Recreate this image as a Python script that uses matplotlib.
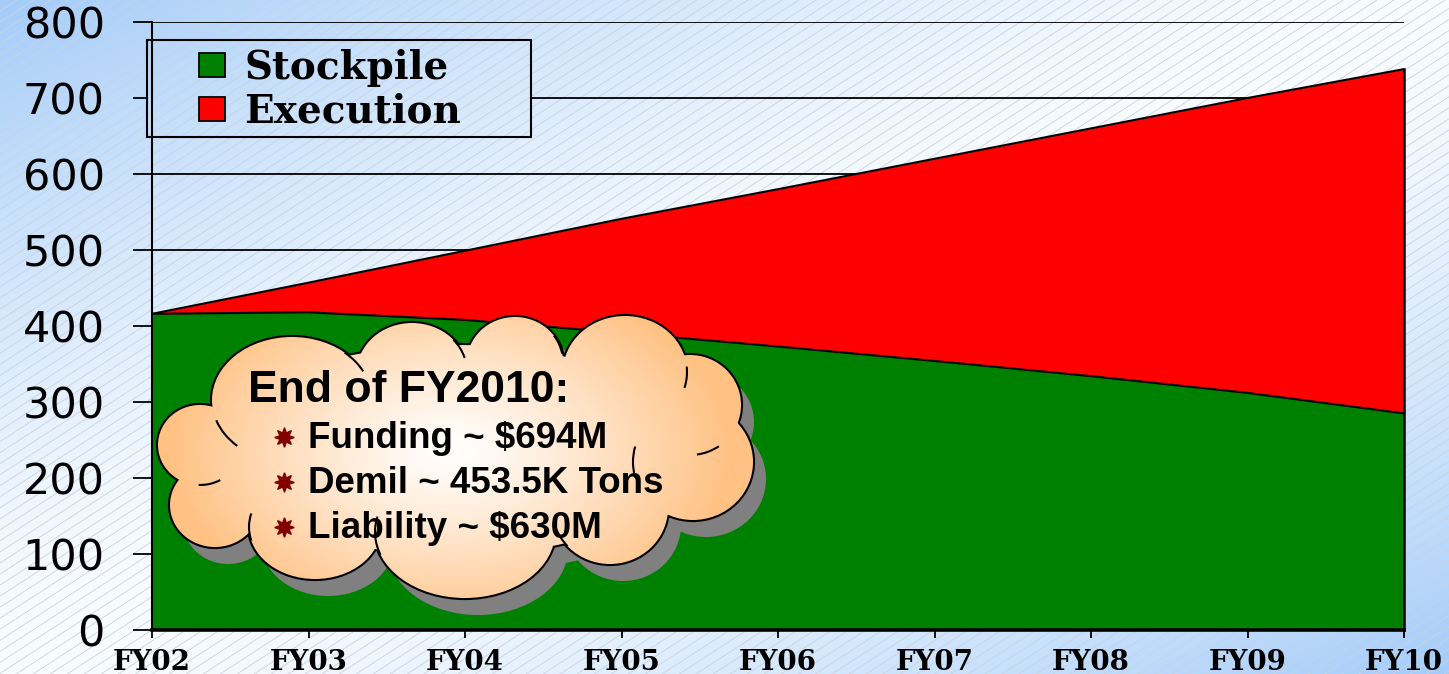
import numpy as np
import matplotlib.pyplot as plt
from matplotlib.patches import Patch, PathPatch, Rectangle, Arc
from matplotlib.path import Path
from matplotlib.transforms import Affine2D

years = ["FY02", "FY03", "FY04", "FY05", "FY06", "FY07", "FY08", "FY09", "FY10"]
stockpile = [416, 418, 408, 391, 373, 354, 334, 312, 285]
execution = [0, 39, 91, 150, 207, 266, 326, 388, 453]
yticks = [0, 100, 200, 300, 400, 500, 600, 700, 800]

cloud_title = "End of FY2010:"
cloud_items = ["Funding ~ $694M", "Demil ~ 453.5K Tons", "Liability ~ $630M"]

GREEN, RED = "#008000", "#FF0000"
W, H = 1449, 674

fig = plt.figure(figsize=(W / 100, H / 100), dpi=100)

# background: blue corners fading to white, thin diagonal hatch
yy, xx = np.mgrid[0:H, 0:W]
d = np.clip(np.abs((xx / W + yy / H) / 2 - 0.5) * 2, 0, 1) ** 1.4
blue = np.array([0.64, 0.80, 0.98])
white = np.array([0.98, 0.99, 1.0])
img = white * (1 - d[..., None]) + blue * d[..., None]
slope = np.tan(np.radians(33))


def draw_background(a, clip=None):
    im = a.imshow(img, extent=[0, W, H, 0], aspect="auto", zorder=0)
    arts = [im]
    for c in np.arange(-H / slope, W, 17):
        arts += a.plot([c, c + H / slope], [H, 0], color="#c9d3de", lw=0.6, zorder=0.5)
    if clip is not None:
        for art in arts:
            art.set_clip_path(clip)


bg = fig.add_axes([0, 0, 1, 1], zorder=-10)
draw_background(bg)
bg.set_xlim(0, W); bg.set_ylim(H, 0); bg.axis("off")

# main chart
ax = fig.add_axes([152 / W, 1 - 630 / H, (1404 - 152) / W, (630 - 22) / H], zorder=1)
ax.patch.set_visible(False)
x = np.arange(len(years))
stock = np.array(stockpile)
total = stock + np.array(execution)
ax.fill_between(x, 0, stock, color=GREEN, lw=0, zorder=2)
ax.fill_between(x, stock, total, color=RED, lw=0, zorder=2)
ax.plot(x, stock, color="black", lw=1.5, zorder=3)
ax.plot(x, total, color="black", lw=1.5, zorder=3)
ax.plot([x[-1], x[-1]], [0, total[-1]], color="black", lw=1.8, zorder=3, clip_on=False)

ax.set_xlim(0, len(years) - 1)
ax.set_ylim(0, 800)
ax.set_yticks(yticks)
ax.set_xticks(x)
ax.set_xticklabels(years, fontfamily="DejaVu Serif", fontweight="bold", fontsize=20)
ax.set_yticklabels([str(v) for v in yticks], fontfamily="DejaVu Sans", fontsize=31)
ax.yaxis.grid(True, color="black", lw=1.3)
ax.set_axisbelow(True)
ax.tick_params(axis="y", direction="out", length=14, width=1.3, pad=20)
ax.tick_params(axis="x", direction="out", length=6, width=1.3, pad=8)
for s in ("top", "right"):
    ax.spines[s].set_visible(False)
ax.spines["left"].set_linewidth(1.5)
ax.spines["bottom"].set_linewidth(2.6)

# overlay in pixel coordinates for legend box and cloud callout
ov = fig.add_axes([0, 0, 1, 1], zorder=5)
ov.set_xlim(0, W); ov.set_ylim(H, 0); ov.axis("off")
box = Rectangle((147, 40), 384, 97, fill=False, edgecolor="black", lw=1.5, zorder=2)
ov.add_patch(box)
draw_background(ov, clip=box)
ov.plot([152, 152], [40, 137], color="black", lw=1.5, zorder=1)  # y axis seen through box

handles = [Patch(facecolor=GREEN, edgecolor="black", lw=1.3, label="Stockpile"),
           Patch(facecolor=RED, edgecolor="black", lw=1.3, label="Execution")]
leg = ov.legend(handles=handles, loc="upper left", bbox_to_anchor=(199 / W, 1 - 49 / H),
                bbox_transform=fig.transFigure, frameon=False, borderpad=0, borderaxespad=0,
                handlelength=0.66, handleheight=0.58, handletextpad=0.5, labelspacing=0.15,
                prop={"family": "DejaVu Serif", "weight": "bold", "size": 28})
leg.set_zorder(3)

bumps = [(455, 450, 480, 210), (200, 445, 84, 80), (215, 505, 90, 84),
         (292, 400, 160, 126), (412, 372, 110, 98), (515, 362, 96, 90),
         (625, 372, 124, 112), (690, 405, 102, 100), (693, 462, 120, 116),
         (610, 508, 116, 112), (465, 532, 180, 132), (315, 527, 132, 104)]
# short inner arcs of the cloud outline: (bump index, start angle, end angle)
curls = [(3, 140, 165), (3, 318, 338), (4, 322, 345), (5, 326, 350), (6, 355, 375),
         (7, 55, 82), (8, 165, 195), (9, 138, 160), (10, 165, 190), (11, 168, 192),
         (1, 60, 92)]


def cloud_path(dx=0, dy=0):
    paths = [Path.unit_circle().transformed(
        Affine2D().scale(w / 2, h / 2).translate(cx + dx, cy + dy)) for cx, cy, w, h in bumps]
    return Path.make_compound_path(*paths)


ov.add_patch(PathPatch(cloud_path(13, 17), facecolor="#808080", lw=0, zorder=1))
ov.add_patch(PathPatch(cloud_path(), facecolor="#FFC48A", edgecolor="black", lw=3.0, zorder=2))
gy, gx = np.mgrid[0:H, 0:W]
r = np.sqrt(((gx - 450) / 280) ** 2 + ((gy - 450) / 180) ** 2)
t = np.clip(r, 0, 1) ** 1.2
peach = np.array([1.0, 0.76, 0.52])
grad = np.ones(3) * (1 - t[..., None]) + peach * t[..., None]
im = ov.imshow(grad, extent=[0, W, H, 0], aspect="auto", zorder=3)
clip = PathPatch(cloud_path(), transform=ov.transData, facecolor="none", lw=0)
im.set_clip_path(clip)
for i, t1, t2 in curls:
    cx, cy, w, h = bumps[i]
    ov.add_patch(Arc((cx, cy), w, h, theta1=t1, theta2=t2, color="black", lw=1.5, zorder=4))
ov.set_xlim(0, W); ov.set_ylim(H, 0)

ov.text(248, 402, cloud_title, fontfamily="Liberation Sans", fontweight="bold",
        fontsize=32, ha="left", va="baseline", zorder=5)
for i, item in enumerate(cloud_items):
    base = 448 + i * 45
    ov.plot(284, base - 11, marker=(8, 1, 0), ms=14, color="#800000", zorder=5)
    ov.text(308, base, item, fontfamily="Liberation Sans", fontweight="bold",
            fontsize=26.5, ha="left", va="baseline", zorder=5)

fig.savefig("out.png", dpi=100)
